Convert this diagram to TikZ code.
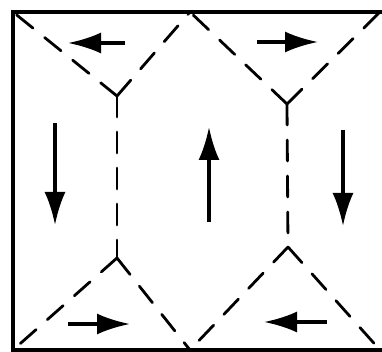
\documentclass[tikz,border=0pt]{standalone}
\usetikzlibrary{arrows.meta}
\begin{document}
\begin{tikzpicture}[x=1pt,y=-1pt,
  frame/.style={line width=4pt,line cap=round,line join=miter},
  wall/.style={line width=2.8pt,dash pattern=on 21pt off 15pt,line cap=round},
  mag/.style={line width=3.4pt,-{Latex[length=33pt,width=21pt]}}]
\useasboundingbox (0,0) rectangle (382,352);
% frame
\coordinate (TL) at (13,12);
\coordinate (TR) at (384,12);
\coordinate (BL) at (13,350);
\coordinate (BR) at (384,350);
\draw[frame] (TR) -- (TL) -- (BL) -- (BR);
% key points
\coordinate (TC) at (190,12);
\coordinate (BC) at (190,350);
\coordinate (TRc) at (380,12);
\coordinate (BRc) at (380,350);
\coordinate (Y1) at (117,96);
\coordinate (Y2) at (287,104);
\coordinate (A1) at (117,258);
\coordinate (A2) at (288,247);
% domain walls
\draw[wall] (Y1) -- (TL);
\draw[wall] (Y1) -- (TC);
\draw[wall] (Y2) -- (TC);
\draw[wall] (Y2) -- (TRc);
\draw[wall] (Y1) -- (A1);
\draw[wall] (Y2) -- (A2);
\draw[wall] (A1) -- (BL);
\draw[wall] (A1) -- (BC);
\draw[wall] (A2) -- (BC);
\draw[wall] (A2) -- (BRc);
% magnetisation arrows
\coordinate (a1s) at (125,43); \coordinate (a1e) at (68,43);
\coordinate (a2s) at (257,42); \coordinate (a2e) at (318,42);
\coordinate (a3s) at (55,123); \coordinate (a3e) at (55,225);
\coordinate (a4s) at (209,222); \coordinate (a4e) at (209,127);
\coordinate (a5s) at (343,130); \coordinate (a5e) at (343,226);
\coordinate (a6s) at (68,324); \coordinate (a6e) at (130,324);
\coordinate (a7s) at (327,322); \coordinate (a7e) at (264,322);
\draw[mag] (a1s) -- (a1e);
\draw[mag] (a2s) -- (a2e);
\draw[mag] (a3s) -- (a3e);
\draw[mag] (a4s) -- (a4e);
\draw[mag] (a5s) -- (a5e);
\draw[mag] (a6s) -- (a6e);
\draw[mag] (a7s) -- (a7e);
\end{tikzpicture}
\end{document}
